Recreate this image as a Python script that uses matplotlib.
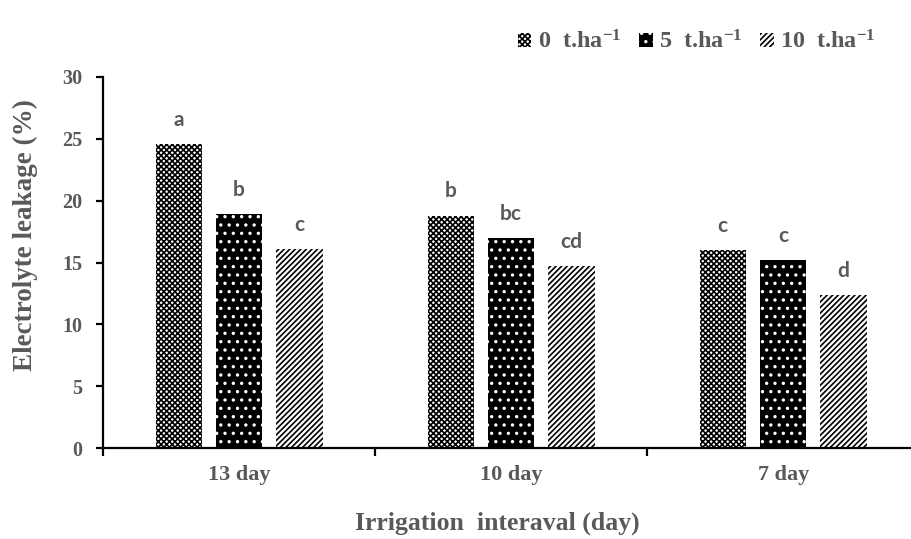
import matplotlib
matplotlib.use("Agg")
import matplotlib.pyplot as plt
import numpy as np

categories = ["13 day", "10 day", "7 day"]
series_names = ["0  t.ha$^{-1}$", "5  t.ha$^{-1}$", "10  t.ha$^{-1}$"]
vals_0t = [24.6, 18.8, 16.0]
vals_5t = [18.9, 16.95, 15.2]
vals_10t = [16.1, 14.7, 12.4]
letters_0t = ["a", "b", "c"]
letters_5t = ["b", "bc", "c"]
letters_10t = ["c", "cd", "d"]

GRAY = "#595959"
SERIF = "Liberation Serif"

plt.rcParams["mathtext.fontset"] = "custom"
plt.rcParams["mathtext.rm"] = "Liberation Serif:bold"
plt.rcParams["mathtext.it"] = "Liberation Serif:bold"
plt.rcParams["mathtext.bf"] = "Liberation Serif:bold"
plt.rcParams["mathtext.default"] = "rm"
plt.rcParams["hatch.linewidth"] = 1.2

fig = plt.figure(figsize=(9.11, 5.39), dpi=100)
ax = fig.add_axes([103/911, 1-448/539, 1-103/911, (448-77)/539])

x = np.arange(len(categories))
step = 0.222
width = 0.17

styles = [
    dict(facecolor="white", edgecolor="black", hatch="xxxxxx"),
    dict(facecolor="black", edgecolor="white", hatch=".."),
    dict(facecolor="white", edgecolor="black", hatch="//////"),
]
all_vals = [vals_0t, vals_5t, vals_10t]
all_letters = [letters_0t, letters_5t, letters_10t]
handles = []
for i, (vals, lets, st) in enumerate(zip(all_vals, all_letters, styles)):
    bars = ax.bar(x + (i - 1) * step, vals, width, linewidth=0, label=series_names[i], **st)
    handles.append(bars)
    for b, l in zip(bars, lets):
        ax.annotate(l, (b.get_x() + b.get_width() / 2, b.get_height()),
                    xytext=(0, 13), textcoords="offset points",
                    ha="center", va="baseline", fontsize=15,
                    fontfamily="Lato", fontweight="bold", color=GRAY)

ax.set_ylim(0, 30)
ax.set_xlim(-0.5, 2.47)
ax.set_yticks(np.arange(0, 31, 5))
ax.set_xticks([-0.5, 0.5, 1.5])
ax.set_xticklabels([])
ax.set_xticks(x, minor=True)
ax.set_xticklabels(categories, minor=True)

for s in ["top", "right"]:
    ax.spines[s].set_visible(False)
for s in ["left", "bottom"]:
    ax.spines[s].set_linewidth(1.6)

ax.tick_params(axis="y", direction="out", length=5, width=1.6, pad=10,
               labelsize=14.5, labelcolor=GRAY)
ax.tick_params(axis="x", which="major", direction="out", length=6, width=1.6)
ax.tick_params(axis="x", which="minor", length=0, pad=12, labelsize=16, labelcolor=GRAY)
for lab in ax.get_yticklabels() + ax.get_xticklabels(minor=True):
    lab.set_fontfamily(SERIF)
    lab.set_fontweight("bold")

ax.set_xlabel("Irrigation  interaval (day)", fontsize=18.5, fontfamily=SERIF,
              fontweight="bold", color=GRAY)
ax.xaxis.label.set_va("center")
ax.xaxis.set_label_coords((497-103)/808, (448-523)/371)
ax.set_ylabel("Electrolyte leakage (%)", fontsize=19.5, fontfamily=SERIF,
              fontweight="bold", color=GRAY)
ax.yaxis.label.set_va("center")
ax.yaxis.set_label_coords((25-103)/808, (448-235)/371)

leg = fig.legend(handles=handles, loc="center right", bbox_to_anchor=(0.985, 0.922),
                 ncol=3, frameon=False, handlelength=0.55, handleheight=0.55,
                 handletextpad=0.25, columnspacing=0.75,
                 prop=dict(family=SERIF, weight="bold", size=17.5))
for t in leg.get_texts():
    t.set_color(GRAY)

fig.savefig("out.png", dpi=100)
